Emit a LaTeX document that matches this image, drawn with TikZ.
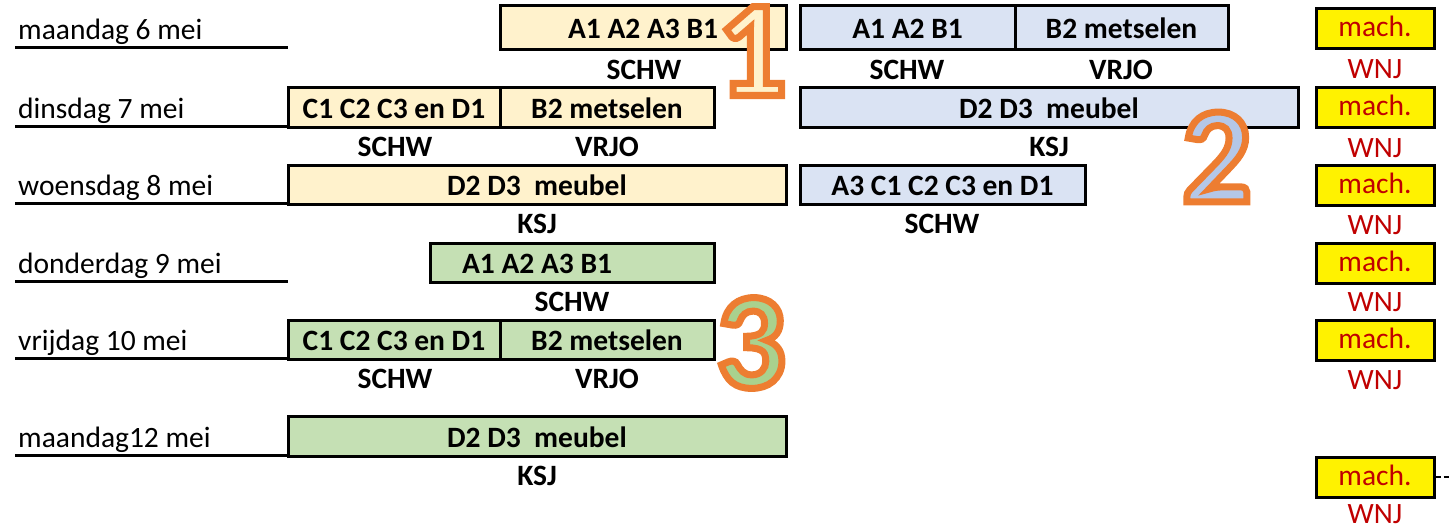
\documentclass[tikz,border=0pt]{standalone}
\usepackage{fontspec}
\setmainfont{Carlito}
\definecolor{yfill}{HTML}{FFF2CC}
\definecolor{bfill}{HTML}{DAE3F3}
\definecolor{gfill}{HTML}{C5E0B4}
\definecolor{dtwo}{HTML}{B4C7E7}
\definecolor{dthree}{HTML}{A9D18E}
\definecolor{wnjred}{HTML}{C00000}
\newcommand\outl[1]{\special{pdf:literal direct 2 Tr 7 w 0.929 0.490 0.192 RG}#1\special{pdf:literal direct 0 Tr}}
\begin{document}
\begin{tikzpicture}[x=1pt,y=-1pt,
  taskbox/.style={draw, line width=3pt, inner sep=0pt, font=\fontsize{29.5}{31}\selectfont\bfseries, text height=22pt, text depth=0pt},
  ybox/.style={taskbox, fill=yfill},
  bbox/.style={taskbox, fill=bfill},
  gbox/.style={taskbox, fill=gfill},
  machbox/.style={draw, line width=3pt, fill=yellow, inner sep=0pt, text=wnjred, font=\fontsize{29.5}{31}\selectfont, text height=16pt, text depth=0pt, minimum width=118pt, minimum height=40pt},
  who/.style={anchor=base, inner sep=0pt, font=\fontsize{29.5}{31}\selectfont\bfseries},
  wnj/.style={anchor=base, inner sep=0pt, text=wnjred, font=\fontsize{29.5}{31}\selectfont},
  daylabel/.style={anchor=base west, inner sep=0pt, font=\fontsize{29.5}{31}\selectfont},
  dayline/.style={line width=3pt},
  digit/.style={inner sep=0pt, font=\fontsize{137}{140}\selectfont\bfseries}
]
\useasboundingbox (0,0) rectangle (1449,528);

% day labels and underlines
\node[daylabel] (d1) at (18,39) {maandag 6 mei};
\node[daylabel] (d2) at (18,118) {dinsdag 7 mei};
\node[daylabel] (d3) at (18,195) {woensdag 8 mei};
\node[daylabel] (d4) at (18,273) {donderdag 9 mei};
\node[daylabel] (d5) at (18,350) {vrijdag 10 mei};
\node[daylabel] (d6) at (18,447) {maandag12 mei};
\coordinate (u1a) at (15,47);  \coordinate (u1b) at (288,47);
\coordinate (u2a) at (15,126); \coordinate (u2b) at (288,126);
\coordinate (u3a) at (15,203); \coordinate (u3b) at (288,203);
\coordinate (u4a) at (15,281); \coordinate (u4b) at (288,281);
\coordinate (u5a) at (15,358); \coordinate (u5b) at (288,358);
\coordinate (u6a) at (15,455); \coordinate (u6b) at (288,455);
\foreach \i in {1,...,6} \draw[dayline] (u\i a) -- (u\i b);

% row 1
\node[ybox, minimum width=286pt, minimum height=44pt] (r1y) at (643,27) {A1 A2 A3 B1};
\node[bbox, minimum width=215pt, minimum height=44pt] (r1ba) at (907.5,27) {A1 A2 B1};
\node[bbox, minimum width=213pt, minimum height=44pt] (r1bb) at (1121.5,27) {B2 metselen};
\node[who] (w1a) at (644,79) {SCHW};
\node[who] (w1b) at (907,79) {SCHW};
\node[who] (w1c) at (1121,79) {VRJO};

% row 2
\node[ybox, minimum width=212pt, minimum height=40pt] (r2ya) at (394,107) {C1 C2 C3 en D1};
\node[ybox, minimum width=214pt, minimum height=40pt] (r2yb) at (607,107) {B2 metselen};
\node[bbox, minimum width=498pt, minimum height=40pt] (r2b) at (1049,107) {D2 D3~~meubel};
\node[who] (w2a) at (395,156) {SCHW};
\node[who] (w2b) at (607,156) {VRJO};
\node[who] (w2c) at (1049,156) {KSJ};

% row 3
\node[ybox, minimum width=498pt, minimum height=39pt] (r3y) at (537,184.5) {D2 D3~~meubel};
\node[bbox, minimum width=285pt, minimum height=39pt] (r3b) at (942.5,184.5) {A3 C1 C2 C3 en D1};
\node[who] (w3a) at (537,233) {KSJ};
\node[who] (w3b) at (942,233) {SCHW};

% row 4
\node[gbox, minimum width=284pt, minimum height=39pt] (r4g) at (572,262.5) {};
\node[who, anchor=base] (t4g) at (537,273) {A1 A2 A3 B1};
\node[who] (w4a) at (572,311) {SCHW};

% row 5
\node[gbox, minimum width=212pt, minimum height=39pt] (r5ga) at (394,339.5) {C1 C2 C3 en D1};
\node[gbox, minimum width=214pt, minimum height=39pt] (r5gb) at (607,339.5) {B2 metselen};
\node[who] (w5a) at (395,388) {SCHW};
\node[who] (w5b) at (607,388) {VRJO};

% row 6
\node[gbox, minimum width=498pt, minimum height=40pt] (r6g) at (537,436) {D2 D3~~meubel};
\node[who] (w6a) at (537,485) {KSJ};

% machine column
\node[machbox] (m1) at (1375,28) {mach.};
\node[machbox] (m2) at (1375,107) {mach.};
\node[machbox] (m3) at (1375,185) {mach.};
\node[machbox] (m4) at (1375,263) {mach.};
\node[machbox] (m5) at (1375,340) {mach.};
\node[machbox] (m6) at (1375,477) {mach.};
\node[wnj] (n1) at (1375,78) {WNJ};
\node[wnj] (n2) at (1375,157) {WNJ};
\node[wnj] (n3) at (1375,234) {WNJ};
\node[wnj] (n4) at (1375,311) {WNJ};
\node[wnj] (n5) at (1375,389) {WNJ};
\node[wnj] (n6) at (1375,523) {WNJ};
\coordinate (edge) at (1449,477);
\draw[line width=1.5pt, dash pattern=on 5pt off 3pt] (m6.east) -- (edge);

% big numbers
\node[digit, text=yfill] (big1) at (752,51) {\outl{1}};
\node[digit, text=dtwo] (big2) at (1217,157) {\outl{2}};
\node[digit, text=dthree] (big3) at (751,343) {\outl{3}};
\end{tikzpicture}
\end{document}
